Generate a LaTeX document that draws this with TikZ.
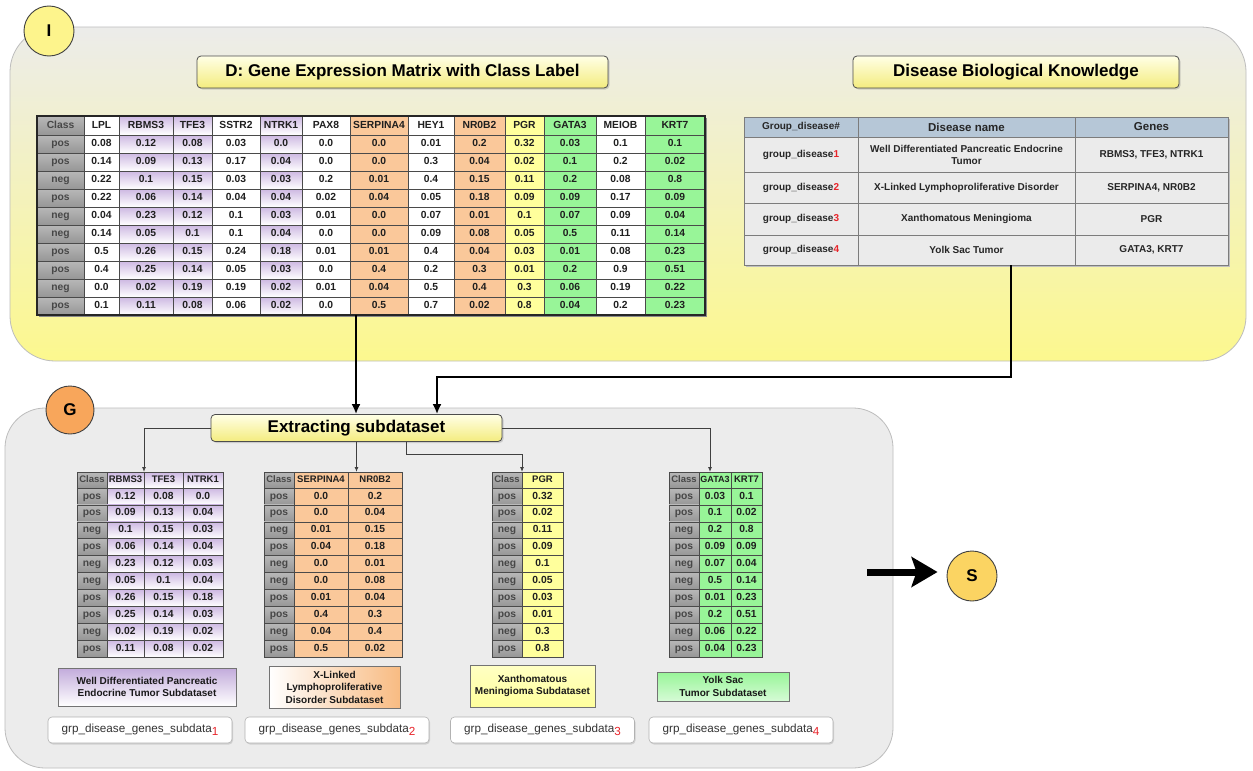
\documentclass[tikz,border=0pt]{standalone}
\usepackage{fontspec}
\setmainfont{Liberation Sans}
\usetikzlibrary{arrows.meta,shadows,calc}

\definecolor{panelTop}{HTML}{ECECEA}
\definecolor{panelBot}{HTML}{FCF88E}
\definecolor{panelLine}{HTML}{BDBDBD}
\definecolor{lowPanel}{HTML}{ECECEC}
\definecolor{cellLine}{HTML}{4A4A4A}
\definecolor{grayTop}{HTML}{B8B8B8}
\definecolor{grayBot}{HTML}{969696}
\definecolor{purpTop}{HTML}{CDB8E2}
\definecolor{purpLab}{HTML}{C2ABDB}
\definecolor{orng}{HTML}{FAC89A}
\definecolor{orngLab}{HTML}{F8BB82}
\definecolor{yell}{HTML}{FFFF9C}
\definecolor{grn}{HTML}{98F598}
\definecolor{hdrTop}{HTML}{FFFFE6}
\definecolor{hdrBot}{HTML}{F4EC7E}
\definecolor{dHead}{HTML}{B6C7D7}
\definecolor{dBody}{HTML}{EBEBEB}
\definecolor{dLine}{HTML}{7C7C7C}
\definecolor{mark}{HTML}{E8242A}
\definecolor{circI}{HTML}{FDF48C}
\definecolor{circG}{HTML}{F8A65B}
\definecolor{circS}{HTML}{FBD462}

\tikzset{
  cell/.style={draw=cellLine, line width=0.6pt, inner sep=0pt, outer sep=0pt,
    text height=7.4pt, text depth=2.2pt,
    font=\fontsize{10.3}{12}\selectfont\bfseries, text=black!88},
  tabhead/.style={},
  cg/.style={top color=grayTop, bottom color=grayBot, text=black!72},
  cw/.style={fill=white},
  cp/.style={top color=purpTop, bottom color=white},
  co/.style={fill=orng},
  cy/.style={fill=yell},
  cn/.style={fill=grn},
  hdrbox/.style={draw=black!70, line width=0.8pt, rounded corners=4pt,
    top color=hdrTop, bottom color=hdrBot, inner sep=0pt,
    font=\fontsize{17}{20}\selectfont\bfseries,
    drop shadow={opacity=0.3, shadow xshift=1.5pt, shadow yshift=-1.5pt}},
  dcell/.style={draw=dLine, fill=dBody, line width=0.6pt, inner sep=0pt, outer sep=0pt,
    font=\fontsize{10}{12}\selectfont\bfseries, text=black!85},
  dhd/.style={fill=dHead},
  lab/.style={draw=black!55, line width=0.6pt, inner sep=0pt, align=center,
    font=\fontsize{10}{12.5}\selectfont\bfseries, text=black!90},
  gbox/.style={draw=black!30, line width=0.6pt, rounded corners=4pt, fill=white,
    minimum width=184pt, minimum height=26pt, inner sep=0pt,
    font=\fontsize{11.7}{13}\selectfont, text=black!80,
    drop shadow={opacity=0.25, shadow xshift=1pt, shadow yshift=-1.5pt}},
  circ/.style={circle, draw=black!75, line width=0.9pt, minimum size=50pt, inner sep=0pt,
    font=\fontsize{17}{20}\selectfont\bfseries},
  conn/.style={draw=black!75, line width=0.9pt, -{Latex[length=5pt,width=4pt]}},
  bigarrow/.style={draw=black, line width=2.4pt, -{Latex[length=10pt,width=9pt]}},
  fatarrow/.style={draw=black, line width=7pt, -{Stealth[length=26pt,width=30pt,inset=5pt]}}
}

% one table column: prefix, x-left, x-right, y-top, header height, row height, style, header, values
\newcommand\tcol[9]{%
  \node[cell,#7,tabhead,minimum width={#3-#2},minimum height={#5}] (#1-0)
    at ({(#2+#3)/2},{#4+#5/2}) {#8};
  \foreach \v [count=\r] in {#9}{%
    \node[cell,#7,minimum width={#3-#2},minimum height={#6}] (#1-\r)
      at ({(#2+#3)/2},{#4+#5+(\r-0.5)*#6}) {\v};
  }%
}
% one row of the disease knowledge table
\newcommand\krow[6]{%
  \node[dcell,minimum width=114pt,minimum height=#3] (k-#1-1) at (801,#2) {group\_disease\textcolor{mark}{#4}};
  \node[dcell,minimum width=217pt,minimum height=#3,align=center] (k-#1-2) at (966.5,#2) {#5};
  \node[dcell,minimum width=153pt,minimum height=#3] (k-#1-3) at (1151.5,#2) {#6};
}
\newcommand\redsub[1]{\raisebox{-2.5pt}{\textcolor{mark}{#1}}}

\begin{document}
\begin{tikzpicture}[x=1pt,y=-1pt]
\useasboundingbox (0,0) rectangle (1253,771);
\fill[white] (0,0) rectangle (1253,771);

% ---------- panels ----------
\draw[draw=panelLine, line width=0.8pt, top color=panelTop, bottom color=panelBot,
      rounded corners=45pt] (10,27) rectangle (1246,361);
\draw[draw=panelLine, line width=0.8pt, fill=lowPanel, rounded corners=40pt]
      (5,408) rectangle (893,768);

% ---------- titles ----------
\node[hdrbox, minimum width=411pt, minimum height=32pt] (dtitle) at (402.5,72)
  {D: Gene Expression Matrix with Class Label};
\node[hdrbox, minimum width=326pt, minimum height=32pt] (ktitle) at (1016,72)
  {Disease Biological Knowledge};

% ---------- gene expression matrix ----------
\fill[black!45] (38.5,117.5) rectangle (707,317);
\tcol{m0}{37}{84}{116}{19}{18}{cg}{Class}{pos,pos,neg,pos,neg,neg,pos,pos,neg,pos}
\tcol{m1}{84}{119}{116}{19}{18}{cw}{LPL}{0.08,0.14,0.22,0.22,0.04,0.14,0.5,0.4,0.0,0.1}
\tcol{m2}{119}{173}{116}{19}{18}{cp}{RBMS3}{0.12,0.09,0.1,0.06,0.23,0.05,0.26,0.25,0.02,0.11}
\tcol{m3}{173}{212}{116}{19}{18}{cp}{TFE3}{0.08,0.13,0.15,0.14,0.12,0.1,0.15,0.14,0.19,0.08}
\tcol{m4}{212}{260}{116}{19}{18}{cw}{SSTR2}{0.03,0.17,0.03,0.04,0.1,0.1,0.24,0.05,0.19,0.06}
\tcol{m5}{260}{302}{116}{19}{18}{cp}{NTRK1}{0.0,0.04,0.03,0.04,0.03,0.04,0.18,0.03,0.02,0.02}
\tcol{m6}{302}{350}{116}{19}{18}{cw}{PAX8}{0.0,0.0,0.2,0.02,0.01,0.0,0.01,0.0,0.01,0.0}
\tcol{m7}{350}{408}{116}{19}{18}{co}{SERPINA4}{0.0,0.0,0.01,0.04,0.0,0.0,0.01,0.4,0.04,0.5}
\tcol{m8}{408}{454}{116}{19}{18}{cw}{HEY1}{0.01,0.3,0.4,0.05,0.07,0.09,0.4,0.2,0.5,0.7}
\tcol{m9}{454}{505}{116}{19}{18}{co}{NR0B2}{0.2,0.04,0.15,0.18,0.01,0.08,0.04,0.3,0.4,0.02}
\tcol{m10}{505}{544}{116}{19}{18}{cy}{PGR}{0.32,0.02,0.11,0.09,0.1,0.05,0.03,0.01,0.3,0.8}
\tcol{m11}{544}{596}{116}{19}{18}{cn}{GATA3}{0.03,0.1,0.2,0.09,0.07,0.5,0.01,0.2,0.06,0.04}
\tcol{m12}{596}{645}{116}{19}{18}{cw}{MEIOB}{0.1,0.2,0.08,0.17,0.09,0.11,0.08,0.9,0.19,0.2}
\tcol{m13}{645}{705}{116}{19}{18}{cn}{KRT7}{0.1,0.02,0.8,0.09,0.04,0.14,0.23,0.51,0.22,0.23}
\draw[black!85, line width=1.2pt] (m0-0.north west) rectangle (m13-10.south east);

% ---------- disease knowledge table ----------
\fill[black!25] (745.5,118.5) rectangle (1230,267);
\node[dcell,dhd,minimum width=114pt,minimum height=20pt] (k-0-1) at (801,127) {Group\_disease\#};
\node[dcell,dhd,minimum width=217pt,minimum height=20pt,font=\fontsize{11.5}{13}\selectfont\bfseries] (k-0-2) at (966.5,127) {Disease name};
\node[dcell,dhd,minimum width=153pt,minimum height=20pt,font=\fontsize{11.5}{13}\selectfont\bfseries] (k-0-3) at (1151.5,127) {Genes};
\krow{1}{154.5}{35pt}{1}{Well Differentiated Pancreatic Endocrine\\Tumor}{RBMS3, TFE3, NTRK1}
\krow{2}{187.5}{31pt}{2}{X-Linked Lymphoproliferative Disorder}{SERPINA4, NR0B2}
\krow{3}{219}{32pt}{3}{Xanthomatous Meningioma}{PGR}
\krow{4}{250}{30pt}{4}{Yolk Sac Tumor}{GATA3, KRT7}

% ---------- extraction step ----------
\node[hdrbox, minimum width=291pt, minimum height=27pt] (ext) at (356.5,428) {Extracting subdataset};

\coordinate (mtap) at ([xshift=6pt]m7-10.south west);
\coordinate (ktap) at ([xshift=44.5pt]k-4-2.south);
\coordinate (kturn) at ($(ktap)+(0,112)$);
\draw[bigarrow] (mtap) -- (mtap |- ext.north);
\draw[bigarrow] (ktap) -- (kturn) -| ([xshift=80.5pt]ext.north);

% ---------- subdatasets ----------
\tikzset{tabhead/.style={font=\fontsize{9.5}{11}\selectfont\bfseries}}
\tcol{t1a}{77}{107}{472}{16}{16.9}{cg}{Class}{pos,pos,neg,pos,neg,neg,pos,pos,neg,pos}
\tcol{t1b}{107}{144}{472}{16}{16.9}{cp}{RBMS3}{0.12,0.09,0.1,0.06,0.23,0.05,0.26,0.25,0.02,0.11}
\tcol{t1c}{144}{183}{472}{16}{16.9}{cp}{TFE3}{0.08,0.13,0.15,0.14,0.12,0.1,0.15,0.14,0.19,0.08}
\tcol{t1d}{183}{223}{472}{16}{16.9}{cp}{NTRK1}{0.0,0.04,0.03,0.04,0.03,0.04,0.18,0.03,0.02,0.02}

\tcol{t2a}{264}{294}{472}{16}{16.9}{cg}{Class}{pos,pos,neg,pos,neg,neg,pos,pos,neg,pos}
\tcol{t2b}{294}{348}{472}{16}{16.9}{co}{SERPINA4}{0.0,0.0,0.01,0.04,0.0,0.0,0.01,0.4,0.04,0.5}
\tcol{t2c}{348}{402}{472}{16}{16.9}{co}{NR0B2}{0.2,0.04,0.15,0.18,0.01,0.08,0.04,0.3,0.4,0.02}

\tcol{t3a}{492}{522}{472}{16}{16.9}{cg}{Class}{pos,pos,neg,pos,neg,neg,pos,pos,neg,pos}
\tcol{t3b}{522}{563}{472}{16}{16.9}{cy}{PGR}{0.32,0.02,0.11,0.09,0.1,0.05,0.03,0.01,0.3,0.8}

\tcol{t4a}{669}{699}{472}{16}{16.9}{cg}{Class}{pos,pos,neg,pos,neg,neg,pos,pos,neg,pos}
\tcol{t4b}{699}{731}{472}{16}{16.9}{cn,tabhead/.append style={font=\fontsize{9}{10}\selectfont\bfseries}}{GATA3}{0.03,0.1,0.2,0.09,0.07,0.5,0.01,0.2,0.06,0.04}
\tcol{t4c}{731}{762}{472}{16}{16.9}{cn}{KRT7}{0.1,0.02,0.8,0.09,0.04,0.14,0.23,0.51,0.22,0.23}

% connectors from the extraction step to each subdataset
\coordinate (e3) at ([xshift=50pt]ext.south);
\coordinate (t3bend) at ($(t3b-0.north west)+(0,-18)$);
\draw[conn] (ext.west) -| (t1b-0.north east);
\draw[conn] (ext.south) -- (ext.south |- t2c-0.north);
\draw[conn] (e3) |- (t3bend) -- (t3b-0.north west);
\draw[conn] (ext.east) -| ([xshift=-5pt]t4b-0.north);

% subdataset captions
\node[lab, top color=purpLab, bottom color=white, minimum width=178pt, minimum height=38pt] (L1) at (147,687)
  {Well Differentiated Pancreatic\\Endocrine Tumor Subdataset};
\node[lab, left color=white, right color=orngLab, minimum width=131pt, minimum height=42pt] (L2) at (334.5,687)
  {X-Linked\\Lymphoproliferative\\Disorder Subdataset};
\node[lab, top color=yell!60!white, bottom color=yell, minimum width=125pt, minimum height=42pt] (L3) at (532.5,686)
  {Xanthomatous\\Meningioma Subdataset};
\node[lab, top color=grn, bottom color=grn!40!white, minimum width=132pt, minimum height=29pt] (L4) at (723,686.5)
  {Yolk Sac\\Tumor Subdataset};

\node[gbox] (B1) at (140,730) {grp\_disease\_genes\_subdata\redsub{1}};
\node[gbox] (B2) at (337,730) {grp\_disease\_genes\_subdata\redsub{2}};
\node[gbox] (B3) at (542.5,730) {grp\_disease\_genes\_subdata\redsub{3}};
\node[gbox] (B4) at (741,730) {grp\_disease\_genes\_subdata\redsub{4}};

% ---------- stage markers ----------
\node[circ, fill=circI] (cI) at (49,31) {I};
\node[circ, fill=circG, minimum size=48pt] (cG) at (70,410) {G};
\node[circ, fill=circS] (cS) at (972,576) {S};

\coordinate (sstart) at (867,572);
\draw[fatarrow] (sstart) -- ([xshift=-9pt]cS.west |- sstart);
\end{tikzpicture}
\end{document}
